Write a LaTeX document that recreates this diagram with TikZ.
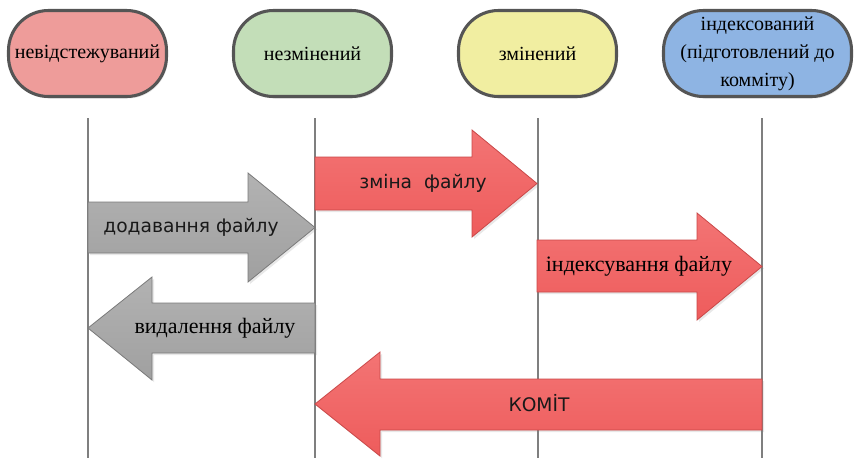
\documentclass[tikz,border=0pt]{standalone}
\usepackage{fontspec}
\setmainfont{Liberation Serif}
\newfontfamily\sansf{DejaVu Sans}
\usetikzlibrary{shadows}
\definecolor{redfill}{HTML}{EE9C9A}
\definecolor{greenfill}{HTML}{C3DEB8}
\definecolor{yellowfill}{HTML}{F1EEA1}
\definecolor{bluefill}{HTML}{8EB4E3}
\definecolor{stateborder}{HTML}{555555}
\definecolor{redtop}{HTML}{F37474}
\definecolor{redbot}{HTML}{EE5C5C}
\definecolor{redline}{HTML}{C94848}
\definecolor{graytop}{HTML}{B2B2B2}
\definecolor{graybot}{HTML}{A0A0A0}
\definecolor{grayline}{HTML}{7A7A7A}
\definecolor{lanegray}{HTML}{7F7F7F}
\begin{document}
\begin{tikzpicture}[x=0.75pt,y=-0.75pt,
  state/.style={draw=stateborder, line width=2.3pt, rounded corners=30pt,
    minimum height=64.5pt, inner sep=0pt, align=center,
    font=\fontsize{15}{21}\selectfont,
    drop shadow={opacity=0.2, shadow xshift=1pt, shadow yshift=-1.5pt}},
  lane/.style={draw=lanegray, line width=1.5pt},
  redarrow/.style={top color=redtop, bottom color=redbot, draw=redline, line width=0.6pt, line join=miter,
    drop shadow={opacity=0.18, shadow xshift=1.5pt, shadow yshift=-1.5pt}},
  grayarrow/.style={top color=graytop, bottom color=graybot, draw=grayline, line width=0.6pt, line join=miter,
    drop shadow={opacity=0.18, shadow xshift=1.5pt, shadow yshift=-1.5pt}},
  sanslabel/.style={font=\sansf\fontsize{14}{16}\selectfont, text=black!90, inner sep=0pt},
  seriflabel/.style={font=\fontsize{16.5}{18}\selectfont, text=black, inner sep=0pt}
]
\useasboundingbox (0,0) rectangle (855,458);

% state nodes
\node[state, fill=redfill, minimum width=118.5pt] (untracked) at (87.5,53.5) {невідстежуваний};
\node[state, fill=greenfill, minimum width=118.5pt] (unmodified) at (312.5,53.5) {незмінений};
\node[state, fill=yellowfill, minimum width=118.5pt] (modified) at (537.5,53.5) {змінений};
\node[state, fill=bluefill, minimum width=141pt] (staged) at (757.5,53.5) {індексований\\(підготовлений до\\комміту)};

% lanes
\coordinate (l1t) at (88,118);  \coordinate (l1b) at (88,458);
\coordinate (l2t) at (315,118); \coordinate (l2b) at (315,458);
\coordinate (l3t) at (538,118); \coordinate (l3b) at (538,458);
\coordinate (l4t) at (762,118); \coordinate (l4b) at (762,458);
\draw[lane] (l1t) -- (l1b);
\draw[lane] (l2t) -- (l2b);
\draw[lane] (l3t) -- (l3b);
\draw[lane] (l4t) -- (l4b);

% arrows
\path[redarrow] (315,157) -- (472,157) -- (472,130) -- (537,183.5) -- (472,237) -- (472,210) -- (315,210) -- cycle;
\path[grayarrow] (88,202) -- (248,202) -- (248,173) -- (315,227.5) -- (248,282) -- (248,253) -- (88,253) -- cycle;
\path[redarrow] (537,240) -- (697,240) -- (697,213) -- (762,266.5) -- (697,320) -- (697,292) -- (537,292) -- cycle;
\path[grayarrow] (315,303) -- (152,303) -- (152,277) -- (88,328) -- (152,380) -- (152,353) -- (315,353) -- cycle;
\path[redarrow] (762,379) -- (380,379) -- (380,352) -- (315,404) -- (380,456) -- (380,430) -- (762,430) -- cycle;

% labels
\node[sanslabel] (lchange) at (423,183) {зміна\hspace{9pt}файлу};
\node[sanslabel] (ladd) at (191,227) {додавання файлу};
\node[seriflabel] (lstage) at (639,266) {індексування файлу};
\node[seriflabel] (lremove) at (215,328) {видалення файлу};
\node[sanslabel] (lcommit) at (539,403) {КОМİТ};
\end{tikzpicture}
\end{document}
